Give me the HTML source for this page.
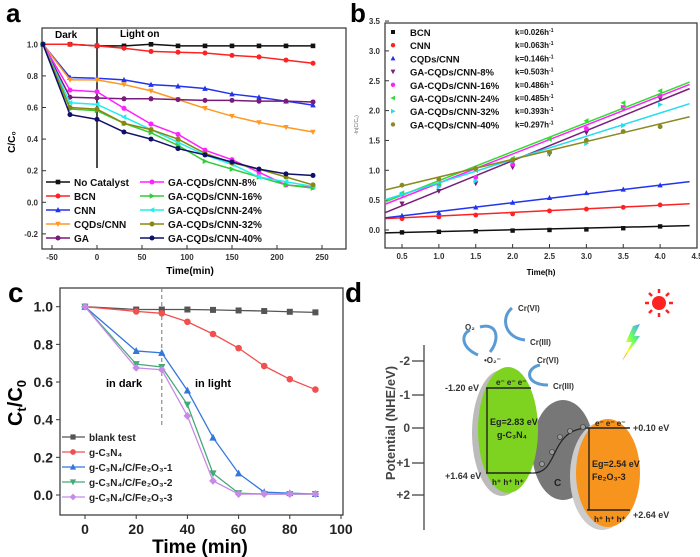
<!DOCTYPE html>
<html><head><meta charset="utf-8"><style>
html,body{margin:0;padding:0;background:#fff;}
svg{display:block;font-family:"Liberation Sans",Arial,sans-serif;}
</style></head><body>
<svg id="fig" width="700" height="557" viewBox="0 0 700 557" xmlns="http://www.w3.org/2000/svg">
<g id="pa"></g>
<g id="pb"></g>
<g id="pc"></g>
<g id="pd">
  <line x1="424" y1="345" x2="424" y2="530" stroke="#444" stroke-width="1.3"/>
  <g stroke="#444" stroke-width="1.3">
    <line x1="412" y1="361" x2="424" y2="361"/><line x1="412" y1="395" x2="424" y2="395"/>
    <line x1="412" y1="428" x2="424" y2="428"/><line x1="412" y1="463" x2="424" y2="463"/>
    <line x1="412" y1="495" x2="424" y2="495"/>
  </g>
  <g font-size="12" font-weight="bold" fill="#444" text-anchor="end">
    <text x="410" y="365">-2</text><text x="410" y="399">-1</text><text x="410" y="432">0</text>
    <text x="410" y="467">+1</text><text x="410" y="499">+2</text>
  </g>
  <text transform="translate(395,423) rotate(-90)" text-anchor="middle" font-size="13" font-weight="bold" fill="#444">Potential (NHE/eV)</text>
  <ellipse cx="502" cy="433" rx="30" ry="63" fill="#bbb"/>
  <ellipse cx="563" cy="450" rx="31" ry="50" fill="#777"/>
  <ellipse cx="508" cy="430" rx="30" ry="63" fill="#7ed321"/>
  <ellipse cx="602" cy="476" rx="32" ry="54" fill="#ccc"/>
  <ellipse cx="608" cy="473" rx="32" ry="54" fill="#f7941d"/>
  <g stroke="#222" stroke-width="1.4">
    <line x1="486" y1="388" x2="531" y2="388"/><line x1="486" y1="473" x2="531" y2="473"/><line x1="487" y1="388" x2="487" y2="473"/>
    <line x1="587" y1="428" x2="630" y2="428"/><line x1="587" y1="510" x2="630" y2="510"/><line x1="589" y1="428" x2="589" y2="510"/>
  </g>
  <path d="M531,473 C560,475 548,430 587,428" fill="none" stroke="#222" stroke-width="1.2"/>
  <g fill="#999" stroke="#333" stroke-width="0.6">
    <circle cx="542" cy="464" r="2.5"/><circle cx="552" cy="452" r="2.5"/><circle cx="560" cy="437" r="2.5"/><circle cx="570" cy="431" r="2.5"/><circle cx="583" cy="427" r="2.5"/>
  </g>
  <g font-size="9" font-weight="bold" fill="#333">
    <text x="445" y="391">-1.20 eV</text><text x="445" y="479">+1.64 eV</text>
    <text x="633" y="431">+0.10 eV</text><text x="633" y="518">+2.64 eV</text>
  </g>
  <g font-size="8" font-weight="bold" fill="#222">
    <text x="496" y="385">e⁻ e⁻ e⁻</text><text x="492" y="485">h⁺ h⁺ h⁺</text>
    <text x="490" y="425" font-size="9">Eg=2.83 eV</text><text x="497" y="438" font-size="9">g-C₃N₄</text>
    <text x="595" y="426">e⁻ e⁻ e⁻</text><text x="594" y="522">h⁺ h⁺ h⁺</text>
    <text x="592" y="467" font-size="9">Eg=2.54 eV</text><text x="592" y="480" font-size="9">Fe₂O₃-3</text>
    <text x="554" y="486" font-size="10">C</text>
  </g>
  <g font-size="8" font-weight="bold" fill="#333">
    <text x="465" y="330">O₂</text><text x="518" y="311">Cr(VI)</text><text x="530" y="345">Cr(III)</text>
    <text x="484" y="363">•O₂⁻</text><text x="537" y="363">Cr(VI)</text><text x="553" y="389">Cr(III)</text>
  </g>
  <g fill="none" stroke="#5b9bd5" stroke-width="3">
    <path d="M478,355 C462,348 460,335 470,330"/><path d="M480,327 C498,322 500,340 490,352"/>
    <path d="M512,308 C500,318 505,338 525,340"/><path d="M540,365 C525,368 525,385 548,385"/>
  </g>
  <g>
    <circle cx="659" cy="303" r="7" fill="#f22"/>
    <g stroke="#f22" stroke-width="2.5"><line x1="659" y1="289" x2="659" y2="293"/><line x1="659" y1="313" x2="659" y2="317"/><line x1="645" y1="303" x2="649" y2="303"/><line x1="669" y1="303" x2="673" y2="303"/><line x1="649" y1="293" x2="652" y2="296"/><line x1="666" y1="310" x2="669" y2="313"/><line x1="669" y1="293" x2="666" y2="296"/><line x1="649" y1="313" x2="652" y2="310"/></g>
  </g>
  <defs><linearGradient id="rb" x1="1" y1="0" x2="0" y2="1"><stop offset="0" stop-color="#4aa3ff"/><stop offset="0.4" stop-color="#6f6"/><stop offset="0.7" stop-color="#ff0"/><stop offset="1" stop-color="#f44"/></linearGradient></defs>
  <polygon points="640,324 634,336 640,336 622,361 632,342 626,342 633,326" fill="url(#rb)"/>
</g>
</svg>
<script>
const aTimes = [-60,-30,0,30,60,90,120,150,180,210,240];
const aNames = ["No Catalyst","BCN","CNN","CQDs/CNN","GA","GA-CQDs/CNN-8%","GA-CQDs/CNN-16%","GA-CQDs/CNN-24%","GA-CQDs/CNN-32%","GA-CQDs/CNN-40%"];
const aNoCat = [1,1,0.99,0.99,1,0.99,0.99,0.99,0.99,0.99,0.99];
const aBCN = [1,1,0.99,0.975,0.955,0.95,0.945,0.93,0.92,0.9,0.88];
const aCNN = [1,0.79,0.785,0.775,0.745,0.735,0.72,0.685,0.665,0.64,0.615];
const aCQD = [1,0.775,0.775,0.745,0.705,0.65,0.595,0.545,0.505,0.475,0.445];
const aGA = [1,0.665,0.66,0.655,0.655,0.65,0.645,0.645,0.64,0.64,0.635];
const a8 = [1,0.71,0.70,0.595,0.495,0.43,0.33,0.27,0.19,0.11,0.095];
const a16 = [1,0.59,0.58,0.50,0.44,0.36,0.26,0.21,0.16,0.11,0.09];
const a24 = [1,0.63,0.62,0.54,0.46,0.38,0.30,0.24,0.16,0.13,0.10];
const a32 = [1,0.60,0.59,0.50,0.46,0.40,0.31,0.25,0.21,0.16,0.11];
const a40 = [1,0.555,0.525,0.445,0.40,0.34,0.30,0.255,0.21,0.18,0.17];
const aXTicks = [-50,0,50,100,150,200,250];
const aYTicks = [-0.2,0,0.2,0.4,0.6,0.8,1.0];
const bTimes = [0.5,1,1.5,2,2.5,3,3.5,4];
const bNames = ["BCN","CNN","CQDs/CNN","GA-CQDs/CNN-8%","GA-CQDs/CNN-16%","GA-CQDs/CNN-24%","GA-CQDs/CNN-32%","GA-CQDs/CNN-40%"];
const bK = ["k=0.026h","k=0.063h","k=0.146h","k=0.503h","k=0.486h","k=0.485h","k=0.393h","k=0.297h"];
const bSlope = [0.029,0.06,0.147,0.503,0.486,0.486,0.39,0.297];
const bIntercept = [-0.055,0.175,0.163,0.155,0.30,0.34,0.40,0.59];
const bBCN = [-0.04,-0.03,-0.02,-0.01,0.0,0.01,0.03,0.06];
const bCNN = [0.19,0.22,0.25,0.27,0.32,0.35,0.38,0.42];
const bCQD = [0.24,0.29,0.38,0.46,0.54,0.62,0.68,0.75];
const b8 = [0.44,0.65,0.78,1.05,1.27,1.63,2.05,2.2];
const b16 = [0.6,0.75,0.88,1.1,1.3,1.7,2.05,2.25];
const b24 = [0.62,0.78,1.0,1.2,1.52,1.83,2.13,2.33];
const b32 = [0.6,0.72,0.82,1.15,1.28,1.45,1.75,2.1];
const b40 = [0.75,0.85,1.03,1.17,1.3,1.5,1.65,1.73];
const bXTicks = [0.5,1.0,1.5,2.0,2.5,3.0,3.5,4.0,4.5];
const bYTicks = [0,0.5,1.0,1.5,2.0,2.5,3.0,3.5];
const cTimes = [0,20,30,40,50,60,70,80,90];
const cNames = ["blank test","g-C₃N₄","g-C₃N₄/C/Fe₂O₃-1","g-C₃N₄/C/Fe₂O₃-2","g-C₃N₄/C/Fe₂O₃-3"];
const cBlank = [1,0.985,0.985,0.985,0.983,0.98,0.977,0.973,0.97];
const cGCN = [1,0.975,0.965,0.92,0.855,0.78,0.685,0.615,0.56];
const cS1 = [1,0.765,0.755,0.555,0.305,0.115,0.015,0.01,0.005];
const cS2 = [1,0.695,0.68,0.48,0.115,0.01,0.005,0.005,0.005];
const cS3 = [1,0.675,0.665,0.42,0.075,0.005,0.005,0.005,0.005];
const cXTicks = [0,20,40,60,80,100];
const cYTicks = [0,0.2,0.4,0.6,0.8,1.0];

const NS = "http://www.w3.org/2000/svg";
function mk(parent, tag, attrs, text){
  const e = document.createElementNS(NS, tag);
  for (const k in attrs) e.setAttribute(k, attrs[k]);
  if (text !== undefined) e.textContent = text;
  parent.appendChild(e);
  return e;
}
function marker(g, shape, x, y, s, color){
  let e;
  if (shape==="sq") e = mk(g,"rect",{x:x-s,y:y-s,width:2*s,height:2*s,fill:color});
  else if (shape==="ci") e = mk(g,"circle",{cx:x,cy:y,r:s*1.1,fill:color});
  else if (shape==="tu") e = mk(g,"polygon",{points:`${x},${y-s*1.3} ${x+s*1.2},${y+s} ${x-s*1.2},${y+s}`,fill:color});
  else if (shape==="td") e = mk(g,"polygon",{points:`${x},${y+s*1.3} ${x+s*1.2},${y-s} ${x-s*1.2},${y-s}`,fill:color});
  else if (shape==="tl") e = mk(g,"polygon",{points:`${x-s*1.3},${y} ${x+s},${y-s*1.2} ${x+s},${y+s*1.2}`,fill:color});
  else if (shape==="tr") e = mk(g,"polygon",{points:`${x+s*1.3},${y} ${x-s},${y-s*1.2} ${x-s},${y+s*1.2}`,fill:color});
  else e = mk(g,"polygon",{points:`${x},${y-s*1.3} ${x+s*1.3},${y} ${x},${y+s*1.3} ${x-s*1.3},${y}`,fill:color});
  return e;
}

(function(){
  const g = document.getElementById("pa");
  const xs = t => 97 + (t)*0.9;
  const ys = v => 202.3 - v*158;
  const ax = mk(g,"rect",{x:42,y:28,width:304,height:221,fill:"none",stroke:"#333","stroke-width":1.2});
  
  
  const lbl = mk(g,"text",{x:6,y:22,"font-size":26,"font-weight":"bold"},"a");
  
  
  aXTicks.forEach(t=>{
    mk(g,"line",{x1:xs(t),y1:249,x2:xs(t),y2:245,stroke:"#333"});
    const tx = mk(g,"text",{x:xs(t),y:260,"font-size":8,"font-weight":"bold","text-anchor":"middle",fill:"#333"},String(t));
    
    
  });
  aYTicks.forEach(v=>{
    mk(g,"line",{x1:42,y1:ys(v),x2:46,y2:ys(v),stroke:"#333"});
    const tx = mk(g,"text",{x:38,y:ys(v)+3,"font-size":8,"font-weight":"bold","text-anchor":"end",fill:"#333"},v.toFixed(1));
    
    
  });
  const xt = mk(g,"text",{x:190,y:274,"font-size":10,"font-weight":"bold","text-anchor":"middle"},"Time(min)");
  
  
  const yt = mk(g,"text",{transform:"translate(15,142) rotate(-90)","font-size":10,"font-weight":"bold","text-anchor":"middle"},"C/C₀");
  
  
  mk(g,"line",{x1:xs(0),y1:28,x2:xs(0),y2:168,stroke:"#111","stroke-width":1.5});
  const d1 = mk(g,"text",{x:55,y:38,"font-size":10,"font-weight":"bold"},"Dark");
  
  
  const d2 = mk(g,"text",{x:120,y:37,"font-size":10,"font-weight":"bold"},"Light on");
  
  
  const series = [aNoCat,aBCN,aCNN,aCQD,aGA,a8,a16,a24,a32,a40];
  const colors = ["#111","#f22","#2233ee","#ff9922","#7a1a7a","#ff22ff","#33cc33","#22eeee","#888811","#10106a"];
  const shapes = ["sq","ci","tu","td","ci","ci","tr","tl","ci","ci"];
  series.forEach((s,i)=>{
    const sg = mk(g,"g",{});
    
    
    mk(sg,"polyline",{points:s.map((v,j)=>xs(aTimes[j])+","+ys(v)).join(" "),fill:"none",stroke:colors[i],"stroke-width":1.5});
    s.forEach((v,j)=>marker(sg,shapes[i],xs(aTimes[j]),ys(v),2.3,colors[i]));
  });
  const lg = mk(g,"g",{});
  
  
  const rowsY = [182,196,210,224,238];
  aNames.forEach((n,i)=>{
    const col = i<5?0:1, r = i%5;
    const x0 = col===0?46:140, y = rowsY[r];
    mk(lg,"line",{x1:x0,y1:y,x2:x0+24,y2:y,stroke:colors[i],"stroke-width":1.5});
    marker(lg,shapes[i],x0+12,y,2.3,colors[i]);
    const t = mk(lg,"text",{x:x0+28,y:y+4,"font-size":10,"font-weight":"bold",fill:"#111"},n);
    
    
  });
})();

(function(){
  const g = document.getElementById("pb");
  const xs = t => 402 + (t-0.5)*73.75;
  const ys = v => 230 - v*59.7;
  const fr = mk(g,"rect",{x:385,y:23,width:312,height:225,fill:"none",stroke:"#333","stroke-width":1.2});
  
  
  const lbl = mk(g,"text",{x:350,y:22,"font-size":26,"font-weight":"bold"},"b");
  
  
  bXTicks.forEach(t=>{
    mk(g,"line",{x1:xs(t),y1:248,x2:xs(t),y2:244,stroke:"#333"});
    const tx = mk(g,"text",{x:xs(t),y:259,"font-size":8,"font-weight":"bold","text-anchor":"middle",fill:"#333"},t.toFixed(1));
    
    
  });
  bYTicks.forEach(v=>{
    mk(g,"line",{x1:385,y1:ys(v),x2:389,y2:ys(v),stroke:"#333"});
    const tx = mk(g,"text",{x:380,y:ys(v)+3,"font-size":8,"font-weight":"bold","text-anchor":"end",fill:"#333"},v.toFixed(1));
    
    
  });
  const xt = mk(g,"text",{x:541,y:275,"font-size":8,"font-weight":"bold","text-anchor":"middle"},"Time(h)");
  
  
  const yt = mk(g,"text",{transform:"translate(358,125) rotate(-90)","font-size":5,"text-anchor":"middle",fill:"#666"},"-ln(C/C₀)");
  
  
  const series = [bBCN,bCNN,bCQD,b8,b16,b24,b32,b40];
  const colors = ["#111","#f22","#2233ee","#7a1f7a","#ff22ff","#33dd33","#22ddee","#8a8a22"];
  const shapes = ["sq","ci","tu","td","ci","tl","tr","ci"];
  series.forEach((s,i)=>{
    const sg = mk(g,"g",{});
    
    
    mk(sg,"line",{x1:xs(0.27),y1:ys(bIntercept[i]+bSlope[i]*0.27),x2:xs(4.4),y2:ys(bIntercept[i]+bSlope[i]*4.4),stroke:colors[i],"stroke-width":1.5});
    s.forEach((v,j)=>marker(sg,shapes[i],xs(bTimes[j]),ys(v),2.2,colors[i]));
  });
  const lg = mk(g,"g",{});
  
  
  bNames.forEach((n,i)=>{
    const y = 32 + i*13.2;
    marker(lg,shapes[i],393,y,2,colors[i]);
    const t = mk(lg,"text",{x:410,y:y+4,"font-size":9.5,"font-weight":"bold",fill:"#111"},n);
    
    
    const k = mk(lg,"text",{x:515,y:y+3,"font-size":8,"font-weight":"bold",fill:"#111"});
    k.textContent = bK[i];
    mk(k,"tspan",{dy:-3,"font-size":5},"-1");
    
    
  });
})();

(function(){
  const g = document.getElementById("pc");
  const xs = t => 85 + t*2.56;
  const ys = v => 495 - v*188.3;
  const fr = mk(g,"rect",{x:60,y:288,width:283,height:227,fill:"none",stroke:"#333","stroke-width":1.2});
  
  
  const lbl = mk(g,"text",{x:8,y:302,"font-size":28,"font-weight":"bold"},"c");
  
  
  cXTicks.forEach(t=>{
    mk(g,"line",{x1:xs(t),y1:515,x2:xs(t),y2:519,stroke:"#333"});
    const tx = mk(g,"text",{x:xs(t),y:534,"font-size":14,"font-weight":"bold","text-anchor":"middle",fill:"#222"},String(t));
    
    
  });
  cYTicks.forEach(v=>{
    mk(g,"line",{x1:56,y1:ys(v),x2:60,y2:ys(v),stroke:"#333"});
    const tx = mk(g,"text",{x:53,y:ys(v)+5,"font-size":14,"font-weight":"bold","text-anchor":"end",fill:"#222"},v.toFixed(1));
    
    
  });
  const xt = mk(g,"text",{x:200,y:553,"font-size":19,"font-weight":"bold","text-anchor":"middle"},"Time (min)");
  
  
  const yt = mk(g,"text",{transform:"translate(22,403) rotate(-90)","font-size":20,"font-weight":"bold","text-anchor":"middle"});
  yt.textContent = "C";
  mk(yt,"tspan",{"font-size":13,dy:4},"t");
  mk(yt,"tspan",{dy:-4},"/C");
  mk(yt,"tspan",{"font-size":13,dy:4},"0");
  
  
  mk(g,"line",{x1:xs(30),y1:288,x2:xs(30),y2:427,stroke:"#777","stroke-dasharray":"4,3"});
  const t1 = mk(g,"text",{x:106,y:387,"font-size":11,"font-weight":"bold"},"in dark");
  
  
  const t2 = mk(g,"text",{x:195,y:387,"font-size":11,"font-weight":"bold"},"in light");
  
  
  const series = [cBlank,cGCN,cS1,cS2,cS3];
  const colors = ["#555","#f05050","#3377dd","#44aa77","#c88ae8"];
  const shapes = ["sq","ci","tu","td","di"];
  series.forEach((s,i)=>{
    const sg = mk(g,"g",{});
    
    
    mk(sg,"polyline",{points:s.map((v,j)=>xs(cTimes[j])+","+ys(v)).join(" "),fill:"none",stroke:colors[i],"stroke-width":1.3});
    s.forEach((v,j)=>marker(sg,shapes[i],xs(cTimes[j]),ys(v),3,colors[i]));
  });
  const lg = mk(g,"g",{});
  
  
  cNames.forEach((n,i)=>{
    const y = 437 + i*15;
    mk(lg,"line",{x1:62,y1:y,x2:85,y2:y,stroke:colors[i],"stroke-width":1.3});
    marker(lg,shapes[i],73,y,2.6,colors[i]);
    const t = mk(lg,"text",{x:89,y:y+4,"font-size":10,"font-weight":"bold",fill:"#222"},n);
    
    
  });
  const dl = mk(g,"text",{x:345,y:302,"font-size":28,"font-weight":"bold"},"d");
  
  
})();
</script>
</body></html>
